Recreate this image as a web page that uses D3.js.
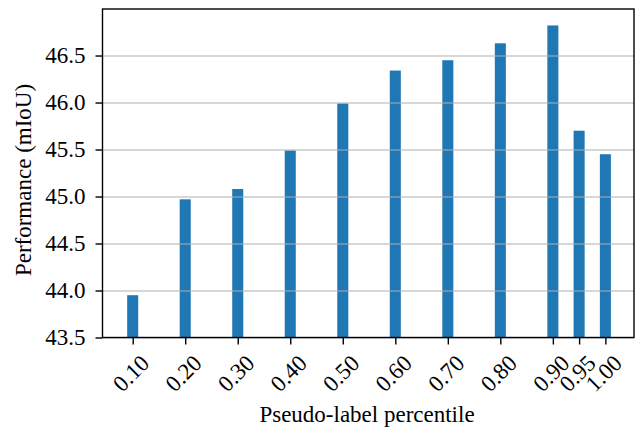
<!DOCTYPE html>
<html>
<head>
<meta charset="utf-8">
<script src="https://cdn.jsdelivr.net/npm/d3@7"></script>
<style>
  body { margin: 0; background: #fff; }
</style>
</head>
<body>
<svg width="635" height="429"></svg>
<script>
// data
var percentiles = [0.10, 0.20, 0.30, 0.40, 0.50, 0.60, 0.70, 0.80, 0.90, 0.95, 1.00];
var miou = [43.95, 44.97, 45.08, 45.49, 45.99, 46.34, 46.45, 46.63, 46.82, 45.70, 45.45];
var yTicks = [43.5, 44.0, 44.5, 45.0, 45.5, 46.0, 46.5];

var serif = "'Liberation Serif', serif";
var svg = d3.select('svg');

var plotL = 102.5, plotR = 634, plotT = 9, plotB = 337.5;

var x = d3.scaleLinear().domain([0.0425, 1.0545]).range([plotL, plotR]);
var y = d3.scaleLinear().domain([43.5, 46.995]).range([plotB, plotT]);
var barW = x(0.021) - x(0);

// bars
svg.selectAll('.bar')
  .data(percentiles)
  .enter()
  .append('rect')
  .attr('class', 'bar')
  .attr('x', function(d) { return x(d) - barW / 2; })
  .attr('y', function(d, i) { return y(miou[i]); })
  .attr('width', barW)
  .attr('height', function(d, i) { return plotB - y(miou[i]); })
  .attr('fill', '#1f77b4');

// horizontal grid, over the bars
svg.append('g')
  .attr('transform', 'translate(' + plotL + ',0)')
  .call(d3.axisLeft(y).tickValues(yTicks).tickSize(-(plotR - plotL)).tickFormat(''))
  .call(function(g) {
    g.select('.domain').remove();
    g.selectAll('line').attr('stroke', '#b0b0b0').attr('stroke-width', 1.1);
  });

// frame
svg.append('rect')
  .attr('x', plotL).attr('y', plotT)
  .attr('width', plotR - plotL).attr('height', plotB - plotT)
  .attr('fill', 'none').attr('stroke', '#000').attr('stroke-width', 1.4);

// y axis
svg.append('g').attr('class', 'y axis')
  .attr('transform', 'translate(' + plotL + ',0)')
  .call(d3.axisLeft(y).tickValues(yTicks).tickSize(7).tickPadding(10).tickFormat(d3.format('.1f')))
  .call(function(g) {
    g.select('.domain').remove();
    g.selectAll('line').attr('stroke', '#000').attr('stroke-width', 1.4);
    g.selectAll('text').style('font-family', serif).style('font-size', '23px').attr('fill', '#000');
  });

// x axis
var xg = svg.append('g').attr('class', 'x axis')
  .attr('transform', 'translate(0,' + plotB + ')')
  .call(d3.axisBottom(x).tickValues(percentiles).tickSize(7).tickFormat(''));
xg.select('.domain').remove();
xg.selectAll('line').attr('stroke', '#000').attr('stroke-width', 1.4);

svg.selectAll('.xlab')
  .data(percentiles)
  .enter()
  .append('text')
  .attr('class', 'xlab')
  .attr('transform', function(d) { return 'translate(' + (x(d) - 1.5) + ',373.5) rotate(-45)'; })
  .attr('text-anchor', 'middle')
  .attr('dominant-baseline', 'central')
  .style('font-family', serif)
  .style('font-size', '23px')
  .text(function(d) { return d3.format('.2f')(d); });

// labels
svg.append('text')
  .attr('transform', 'translate(367,421.5)')
  .attr('text-anchor', 'middle')
  .style('font-family', serif)
  .style('font-size', '23px')
  .text('Pseudo-label percentile');

svg.append('text')
  .attr('transform', 'translate(31,180) rotate(-90)')
  .attr('text-anchor', 'middle')
  .style('font-family', serif)
  .style('font-size', '23px')
  .text('Performance (mIoU)');
</script>
</body>
</html>
